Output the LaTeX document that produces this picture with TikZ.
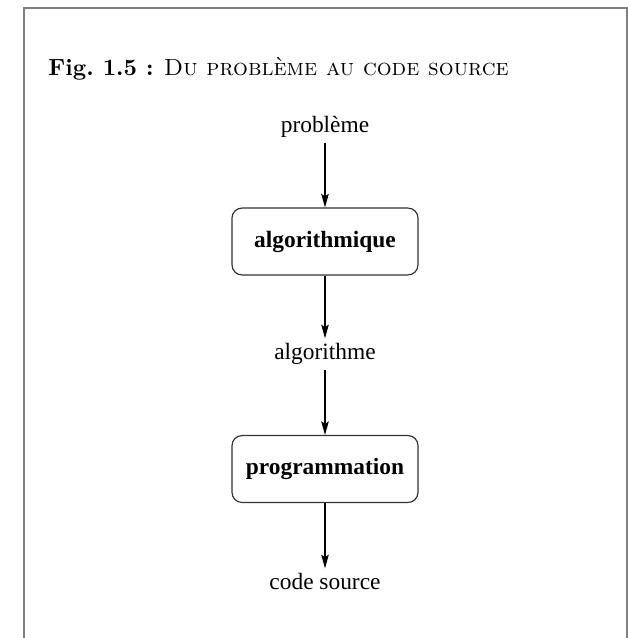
\documentclass[tikz,border=0pt]{standalone}
\usepackage{fontspec}
\newfontfamily\timesfont{Liberation Serif}
\usetikzlibrary{arrows.meta}
\tikzset{
        % Frame around the figure
        fig_frame/.style={draw=black!50, line width=0.6pt},
        % Plain labels between the steps
        node_label/.style={align=center, font=\timesfont, inner sep=2pt, text height=7pt, text depth=2pt},
        % Steps
        node_step/.style={rectangle, rounded corners=4.3pt, draw=black!80, line width=0.5pt, font=\timesfont\bfseries, minimum width=79.5pt, minimum height=28.6pt},
        % Connectors
        flow/.style={-{Stealth[length=5.8pt, width=3.2pt, inset=1pt]}, line width=0.5pt}
}
\begin{document}
\begin{tikzpicture}[x=0.4274pt, y=-0.4274pt]
    \useasboundingbox (0,0) rectangle (628,638);
    \draw[fig_frame] (24,638) -- (24,8) -- (627,8) -- (627,638);
    \node[anchor=base west, inner sep=0pt] (title) at (48,76) {\textbf{Fig.\ 1.5 :} \textsc{Du problème au code source}};

    \node[node_label] (probleme) at (325,127) {problème};
    \node[node_step] (algorithmique) at (325,241.5) {algorithmique};
    \node[node_label] (algorithme) at (325,354) {algorithme};
    \node[node_step] (programmation) at (325,469) {programmation};
    \node[node_label] (code) at (325,584) {code source};

    \draw[flow] (probleme) -- (algorithmique);
    \draw[flow] (algorithmique) -- (algorithme);
    \draw[flow] (algorithme) -- (programmation);
    \draw[flow] (programmation) -- (code);
\end{tikzpicture}
\end{document}
